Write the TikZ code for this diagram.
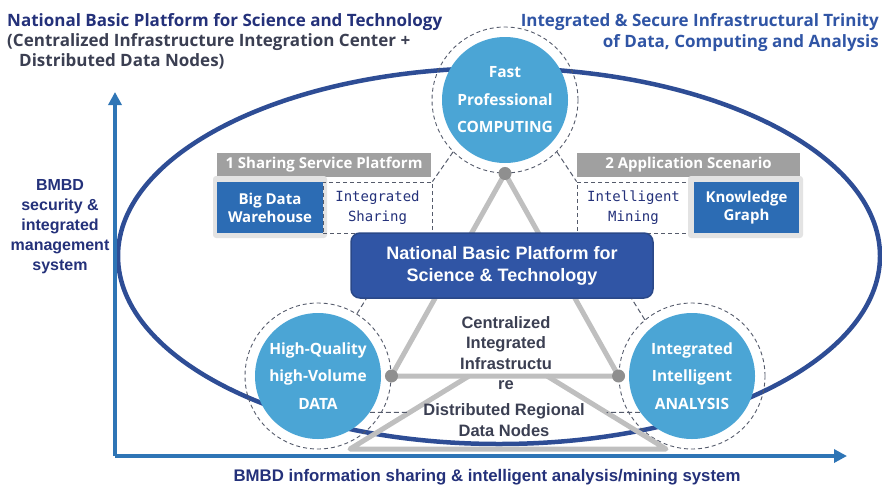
\documentclass[tikz,border=0pt]{standalone}
\usepackage{fontspec}
\setmainfont{Liberation Sans}
\newfontfamily\segfont{Open Sans}
\newfontfamily\typfont{DejaVu Sans Mono}
\usetikzlibrary{arrows.meta}

\definecolor{axisblue}{HTML}{2E75B6}
\definecolor{orbitblue}{HTML}{2E4D95}
\definecolor{ballblue}{HTML}{4BA5D5}
\definecolor{platblue}{HTML}{3055A5}
\definecolor{platedge}{HTML}{2A4888}
\definecolor{boxblue}{HTML}{2C6CB4}
\definecolor{hdrgray}{HTML}{A0A0A0}
\definecolor{backgray}{HTML}{E3E3E3}
\definecolor{trigray}{HTML}{BFBFBF}
\definecolor{dotgray}{HTML}{8F8F8F}
\definecolor{ringgray}{HTML}{555B6B}
\definecolor{navy}{HTML}{24317A}
\definecolor{slate}{HTML}{3B3F52}
\definecolor{titleblue}{HTML}{3055A5}

\tikzset{
  axis/.style={line width=4pt, axisblue, -{Triangle[length=13pt,width=13pt]}},
  orbit/.style={line width=4.5pt, orbitblue},
  tri/.style={line width=5pt, trigray, line join=round},
  ball/.style={circle, fill=ballblue, minimum size=126pt, inner sep=0pt, text=white,
    align=center, font=\segfont\bfseries\fontsize{15.5}{27.5}\selectfont},
  ring/.style={circle, draw=ringgray, dash pattern=on 4pt off 3pt, line width=0.9pt,
    minimum size=146pt, inner sep=0pt},
  gdot/.style={circle, fill=dotgray, minimum size=13pt, inner sep=0pt},
  hdr/.style={fill=hdrgray, text=white, minimum height=24pt, inner sep=0pt,
    font=\segfont\bfseries\fontsize{15}{17}\selectfont},
  back/.style={fill=backgray, rounded corners=3pt, minimum height=62pt, inner sep=0pt},
  bluebox/.style={fill=boxblue, text=white, minimum height=51pt, inner sep=0pt, align=center,
    font=\segfont\bfseries\fontsize{15}{18}\selectfont},
  dashbox/.style={draw=ringgray, dash pattern=on 4pt off 3pt, line width=0.8pt,
    minimum height=51pt, inner sep=0pt, align=center, text=navy,
    font=\typfont\fontsize{14}{19.5}\selectfont},
  plat/.style={fill=platblue, draw=platedge, line width=1.5pt, rounded corners=9pt,
    minimum width=302pt, minimum height=65pt, inner sep=0pt, text=white, align=center,
    font=\bfseries\fontsize{18}{22}\selectfont},
  link/.style={ringgray, dash pattern=on 5pt off 3pt, line width=1pt},
  midtext/.style={align=center, text=slate, inner sep=0pt,
    font=\bfseries\fontsize{16.5}{20.5}\selectfont},
  axlabel/.style={align=center, text=navy, inner sep=0pt,
    font=\bfseries\fontsize{16}{20}\selectfont},
}

\begin{document}
\begin{tikzpicture}[x=1pt,y=-1pt]
  \useasboundingbox (0,0) rectangle (882,485);

  % big orbit behind everything
  \draw[orbit] (499,256) ellipse [x radius=381pt, y radius=188pt];

  % axes
  \coordinate (orig) at (115,456);
  \coordinate (ytip) at (115,92);
  \coordinate (xtip) at (847,456);
  \draw[axis] (orig) -- (ytip);
  \draw[axis] (orig) -- (xtip);

  % the three circles with dashed rings
  \node[ring] (compring) at (505,100) {};
  \node[ring] (dataring) at (318,376) {};
  \node[ring] (anaring)  at (692,376) {};

  % triangles
  \coordinate (tl) at (469,376);
  \coordinate (tr) at (547,376);
  \coordinate (bl) at (350,449);
  \coordinate (br) at (666,449);
  \draw[tri] (tl) -- coordinate[pos=.5] (ml) (bl) -- (br) -- coordinate[pos=.5] (mr) (tr);
  \draw[tri] (compring.south) -- (dataring.east) -- (anaring.west) -- cycle;

  \node[ball] (comp) at (compring.center) {Fast\\Professional\\COMPUTING};
  \node[ball] (data) at (dataring.center) {High-Quality\\high-Volume\\DATA};
  \node[ball] (ana)  at (anaring.center) {Integrated\\Intelligent\\ANALYSIS};

  \node[gdot] (dtop)   at (compring.south) {};
  \node[gdot] (dleft)  at (dataring.east) {};
  \node[gdot] (dright) at (anaring.west) {};

  % sharing service platform
  \node[hdr, minimum width=214pt] (hdr1) at (324,165) {1 Sharing Service Platform};
  \node[back, minimum width=114pt] (back1) at (270,207) {};
  \node[bluebox, minimum width=106pt] (bigdata) at (270,207.5) {Big Data\\Warehouse};
  \node[dashbox, minimum width=109pt] (share) at (377.5,207.5) {Integrated\\Sharing};

  % application scenario
  \node[hdr, minimum width=223pt] (hdr2) at (688.5,165) {2 Application Scenario};
  \node[dashbox, minimum width=113pt] (mine) at (633.5,207.5) {Intelligent\\Mining};
  \node[back, minimum width=115pt] (back2) at (745.5,207) {};
  \node[bluebox, minimum width=105pt] (kg) at (746.5,207.5) {Knowledge\\Graph};

  % central platform
  \node[plat] (plat) at (502,265.5) {National Basic Platform for\\Science \& Technology};

  % dashed links
  \draw[link] (compring.225) -- (share.north east);
  \draw[link] (compring.-45) -- (mine.north west);
  \draw[link] (dataring.58) -- ([xshift=16pt]plat.south west);
  \draw[link] (anaring.130) -- ([xshift=-22pt]plat.south east);
  \draw[link] (data.-35) -- (ml);
  \draw[link] (ana.215) -- (mr);

  % inner labels
  \node[midtext] (central) at (506,353) {Centralized\\Integrated\\Infrastructu\\re};
  \node[midtext] (distrib) at (504,420) {Distributed Regional\\Data Nodes};

  % titles
  \node[anchor=north west, align=left, inner sep=0pt,
    font=\segfont\bfseries\fontsize{17}{20}\selectfont] (ltitle) at (7,13)
    {\textcolor{navy}{National Basic Platform for Science and Technology}\\
     \textcolor{slate}{(Centralized Infrastructure Integration Center +}\\
     \textcolor{slate}{\hspace*{12pt}Distributed Data Nodes)}};
  \node[anchor=north east, align=right, inner sep=0pt, text=titleblue,
    font=\segfont\bfseries\fontsize{17}{21}\selectfont] (rtitle) at (879,13)
    {Integrated \& Secure Infrastructural Trinity\\of Data, Computing and Analysis};

  % axis labels
  \node[axlabel] (ylab) at (60,227) {BMBD\\security \&\\integrated\\management\\system};
  \node[axlabel, font=\bfseries\fontsize{16.8}{20}\selectfont] (xlab) at (487,477)
    {BMBD information sharing \& intelligent analysis/mining system};
\end{tikzpicture}
\end{document}
